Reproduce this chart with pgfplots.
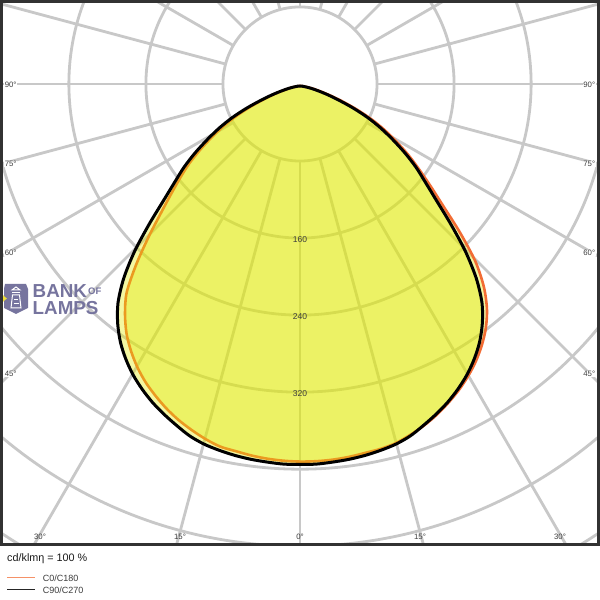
\documentclass[border=0pt]{standalone}
\usepackage{pgfplots}
\pgfplotsset{compat=1.18}
\usepackage{fontspec}
\setmainfont{Liberation Sans}
\definecolor{gridc}{RGB}{200,200,200}
\definecolor{framec}{RGB}{50,50,50}
\definecolor{orangec}{RGB}{242,108,52}
\definecolor{fillc}{RGB}{225,235,0}
\definecolor{labc}{RGB}{60,60,60}
\definecolor{logoc}{RGB}{118,116,158}
\definecolor{logoy}{RGB}{240,225,60}
\begin{document}
\begin{tikzpicture}[x=1pt,y=1pt]
\path[use as bounding box] (0,0) rectangle (600,600);
\fill[white] (0,0) rectangle (600,600);
% polar grid
\begin{scope}
\clip (0,54) rectangle (600,600);
\foreach \r in {77.04,154.08,231.12,308.16,385.2,462.24,539.28}
  \draw[gridc, line width=2.8pt] (300,516) circle[radius=\r];
\foreach \a in {0,15,...,345}
  \draw[gridc, line width=2.8pt, shift={(300,516)}] (\a:77.04) -- (\a:720);
\end{scope}
% logo watermark
\fill[logoy] (0,297) -- (0,306) -- (9,301.5) -- cycle;
\fill[logoc] (5,316) -- (26,316) -- (28,311) -- (28,292) -- (16,286) -- (4,292) -- (4,311) -- cycle;
\fill[logoy] (0,296) -- (0,307) -- (7,301.5) -- cycle;
\draw[white, line width=1pt] (12,310) -- (16,313) -- (20,310) -- cycle;
\draw[white, line width=1pt] (12,307) -- (20,307);
\draw[white, line width=1pt] (12.5,305) -- (11,292) -- (21,292) -- (19.5,305) -- cycle;
\draw[white, line width=0.9pt] (14,301) -- (18,301) (13.5,297) -- (18.5,297);
\node[anchor=base west, inner sep=0, text=logoc, font=\fontsize{18.8}{20}\selectfont\bfseries] at (32.5,302) {BANK};
\node[anchor=base west, inner sep=0, text=logoc, font=\fontsize{9.5}{10}\selectfont\bfseries] at (88,305) {OF};
\node[anchor=base west, inner sep=0, text=logoc, font=\fontsize{18.8}{20}\selectfont\bfseries] at (32.5,285) {LAMPS};
% data
\begin{axis}[at={(0,54)}, anchor=south west, scale only axis,
  width=600pt, height=546pt,
  xmin=-311.53, xmax=311.53, ymin=-479.75, ymax=87.23,
  hide axis, clip=true]
% C0/C180
\addplot[data cs=polar, smooth, tension=0.5, draw=orangec, line width=2.6pt, fill=fillc, fill opacity=0.37, draw opacity=1]
coordinates {
(0,0) (-5,3) (-10,9) (-12.5,15) (-15,22.5) (-17.5,33) (-20,47) (-22.5,64) (-25,82) (-27.5,99) (-30,115.5) (-32.5,133.5) (-35,151) (-37.5,171) (-40,194.5) (-42.5,225.5) (-45,257.5) (-47.5,282.5) (-50,302) (-52.5,317) (-55,329) (-57.5,339.5) (-60,348.5) (-62.5,356.5) (-65,363.5) (-67.5,370) (-70,375.5) (-72.5,380) (-75,384) (-77.5,386) (-80,387) (-82.5,388.5) (-85,389.5) (-87.5,390) (-90,390)
(-92.5,389.5) (-95,388.5) (-97.5,387) (-100,385) (-102.5,383.5) (-105,379.5) (-107.5,374.5) (-110,369) (-112.5,362.5) (-115,355) (-117.5,347) (-120,337.5) (-122.5,326.5) (-125,314) (-127.5,298.5) (-130,280) (-132.5,252) (-135,223) (-137.5,196.5) (-140,175) (-142.5,157) (-145,140.5) (-147.5,122.5) (-150,105) (-152.5,88.5) (-155,71.5) (-157.5,54) (-160,38.5) (-162.5,27) (-165,18) (-167.5,11.5) (-170,7) (-175,2) (-180,0)
};
% C90/C270
\addplot[data cs=polar, smooth, tension=0.5, draw=black, line width=3pt, fill=fillc, fill opacity=0.37, draw opacity=1]
coordinates {
(0,0) (-5,2.5) (-10,8) (-12.5,13) (-15,20) (-17.5,30) (-20,42.7) (-22.5,59.5) (-25,77.5) (-27.5,94.5) (-30,111) (-32.5,129) (-35,147) (-37.5,164) (-40,185) (-42.5,212.5) (-45,243) (-47.5,271) (-50,294) (-52.5,311) (-55,325) (-57.5,336.5) (-60,346.5) (-62.5,355) (-65,362.5) (-67.5,369) (-70,375) (-72.5,381) (-75,385) (-77.5,387.5) (-80,389.5) (-82.5,391) (-85,392) (-87.5,393) (-90,393)
(-92.5,393) (-95,392) (-97.5,391) (-100,389.5) (-102.5,387.5) (-105,385) (-107.5,381) (-110,375) (-112.5,369) (-115,362.5) (-117.5,355) (-120,346.5) (-122.5,336.5) (-125,325) (-127.5,311) (-130,294) (-132.5,271) (-135,243) (-137.5,212.5) (-140,185) (-142.5,164) (-145,147) (-147.5,129) (-150,111) (-152.5,94.5) (-155,77.5) (-157.5,59.5) (-160,42.7) (-162.5,30) (-165,20) (-167.5,13) (-170,8) (-175,2.5) (-180,0)
};
\end{axis}
% radial labels
\begin{scope}[every node/.style={inner sep=0, text=labc, font=\fontsize{8.5}{9}\selectfont}]
\node at (300,360) {160};
\node at (300,283) {240};
\node at (300,206) {320};
\end{scope}
% angle labels
\begin{scope}[every node/.style={inner sep=0.6pt, text=labc, fill=white, font=\fontsize{7.8}{8}\selectfont}]
\node[anchor=west] at (4,515) {90°};
\node[anchor=west] at (4,436) {75°};
\node[anchor=west] at (4,347) {60°};
\node[anchor=west] at (4,226) {45°};
\node[anchor=east] at (596,515) {90°};
\node[anchor=east] at (596,436) {75°};
\node[anchor=east] at (596,347) {60°};
\node[anchor=east] at (596,226) {45°};
\end{scope}
\begin{scope}[every node/.style={inner sep=0, text=labc, font=\fontsize{7.8}{8}\selectfont}]
\node at (40,63) {30°};
\node at (180,63) {15°};
\node at (300,63) {0°};
\node at (420,63) {15°};
\node at (560,63) {30°};
\end{scope}
% frame
\draw[framec, line width=3pt] (1.5,55.5) rectangle (598.5,598.5);
% footer
\node[anchor=base west, inner sep=0, text=black!90, font=\fontsize{10.8}{12}\selectfont] at (7,38.5) {cd/klmη = 100 \%};
\draw[orangec!75, line width=1.2pt] (7,22.7) -- (35,22.7);
\node[anchor=base west, inner sep=0, text=labc, font=\fontsize{9}{10}\selectfont] at (42.7,18.6) {C0/C180};
\draw[black!85, line width=1.2pt] (7,10.7) -- (35,10.7);
\node[anchor=base west, inner sep=0, text=labc, font=\fontsize{9}{10}\selectfont] at (42.7,6.4) {C90/C270};
\end{tikzpicture}
\end{document}
